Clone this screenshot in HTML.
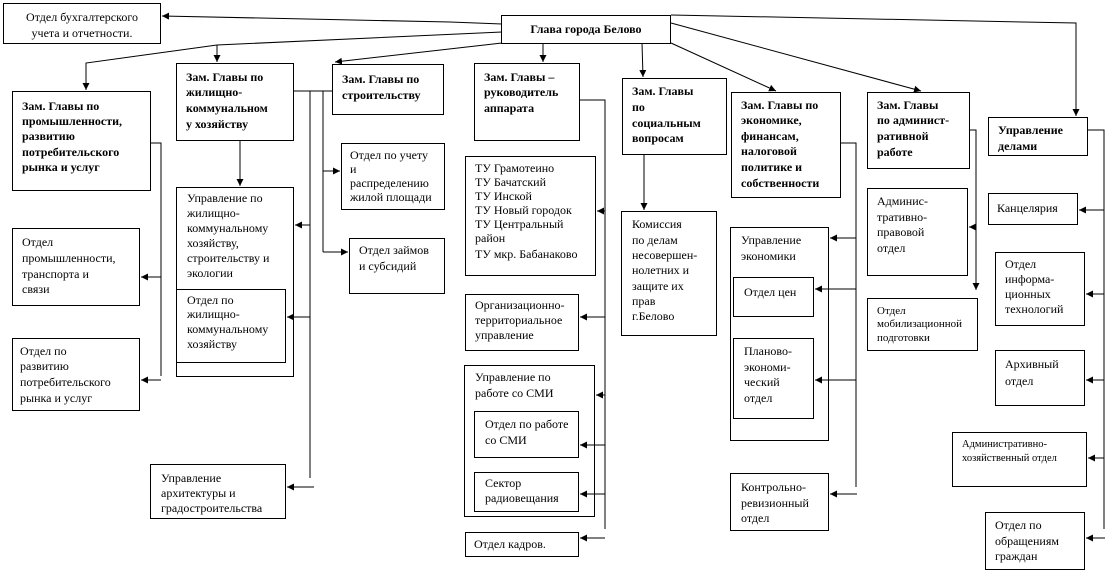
<!DOCTYPE html>
<html><head><meta charset="utf-8"><style>
html,body{margin:0;padding:0;background:#fff;width:1106px;height:573px;overflow:hidden}
svg text{font-family:"Liberation Serif","DejaVu Serif",serif;font-size:12px;fill:#000}
svg text.b{font-weight:bold;font-size:12px}
</style></head><body>
<svg width="1106" height="573" viewBox="0 0 1106 573" xmlns="http://www.w3.org/2000/svg">
<defs><marker id="a" markerWidth="8" markerHeight="8" refX="7" refY="4" orient="auto" markerUnits="userSpaceOnUse"><path d="M0,0.5 L7,4 L0,7.5 Z" fill="#000"/></marker></defs>
<g fill="none" stroke="#000" stroke-width="1">
<!-- boxes -->
<rect x="3.5" y="3.5" width="157" height="40"/>
<rect x="501.5" y="15.5" width="169" height="28"/>
<rect x="12.5" y="91.5" width="138" height="99"/>
<rect x="176.5" y="63.5" width="117" height="77"/>
<rect x="332.5" y="64.5" width="111" height="50"/>
<rect x="474.5" y="63.5" width="105" height="77"/>
<rect x="622.5" y="78.5" width="104" height="76"/>
<rect x="731.5" y="92.5" width="109" height="105"/>
<rect x="867.5" y="92.5" width="102" height="76"/>
<rect x="988.5" y="117.5" width="99" height="38"/>
<rect x="341.5" y="143.5" width="103" height="66"/>
<rect x="349.5" y="238.5" width="95" height="55"/>
<rect x="12.5" y="228.5" width="127" height="77"/>
<rect x="12.5" y="338.5" width="127" height="72"/>
<rect x="176.5" y="187.5" width="117" height="189"/>
<rect x="176.5" y="289.5" width="109" height="73"/>
<rect x="150.5" y="464.5" width="135" height="54"/>
<rect x="465.5" y="156.5" width="130" height="119"/>
<rect x="465.5" y="294.5" width="113" height="56"/>
<rect x="464.5" y="365.5" width="130" height="151"/>
<rect x="474.5" y="411.5" width="104" height="46"/>
<rect x="474.5" y="472.5" width="104" height="39"/>
<rect x="465.5" y="532.5" width="113" height="24"/>
<rect x="621.5" y="211.5" width="95" height="124"/>
<rect x="730.5" y="227.5" width="98" height="213"/>
<rect x="733.5" y="277.5" width="80" height="39"/>
<rect x="733.5" y="338.5" width="80" height="80"/>
<rect x="730.5" y="473.5" width="98" height="57"/>
<rect x="867.5" y="188.5" width="100" height="87"/>
<rect x="867.5" y="298.5" width="110" height="52"/>
<rect x="988.5" y="193.5" width="89" height="31"/>
<rect x="995.5" y="252.5" width="89" height="73"/>
<rect x="995.5" y="350.5" width="89" height="55"/>
<rect x="952.5" y="432.5" width="134" height="54"/>
<rect x="985.5" y="512.5" width="99" height="57"/>
<!-- Glava connectors -->
<polyline points="502,24 450,22 162,16" marker-end="url(#a)"/>
<polyline points="502,32 217,45 86,63 86,90" marker-end="url(#a)"/>
<polyline points="217,45 217,62" marker-end="url(#a)"/>
<polyline points="502,43 335,62" marker-end="url(#a)"/>
<polyline points="543,43 543,62" marker-end="url(#a)"/>
<polyline points="642,43 643,77" marker-end="url(#a)"/>
<polyline points="671,43 776,91" marker-end="url(#a)"/>
<polyline points="671,23 921,91" marker-end="url(#a)"/>
<polyline points="671,15 1076,23 1076,116" marker-end="url(#a)"/>
<!-- Zam prom -->
<polyline points="150,143 161,143 161,376"/>
<polyline points="161,277 141,277" marker-end="url(#a)"/>
<polyline points="161,380 141,380" marker-end="url(#a)"/>
<!-- ZhKH -->
<polyline points="240,140 240,186" marker-end="url(#a)"/>
<polyline points="293,91 332,91"/>
<polyline points="310,91 310,478"/>
<polyline points="323,91 323,252"/>
<polyline points="310,225 295,225" marker-end="url(#a)"/>
<polyline points="310,317 287,317" marker-end="url(#a)"/>
<polyline points="314,487 287,487" marker-end="url(#a)"/>
<polyline points="323,171 340,171" marker-end="url(#a)"/>
<polyline points="323,252 348,252" marker-end="url(#a)"/>
<!-- apparatus -->
<polyline points="579,100 605,100 605,529"/>
<polyline points="605,211 597,211" marker-end="url(#a)"/>
<polyline points="605,317 580,317" marker-end="url(#a)"/>
<polyline points="605,395 596,395" marker-end="url(#a)"/>
<polyline points="605,445 580,445" marker-end="url(#a)"/>
<polyline points="605,494 580,494" marker-end="url(#a)"/>
<polyline points="605,538 580,538" marker-end="url(#a)"/>
<!-- social -->
<polyline points="644,154 644,210" marker-end="url(#a)"/>
<!-- econ -->
<polyline points="840,143 856,143 856,487"/>
<polyline points="856,238 830,238" marker-end="url(#a)"/>
<polyline points="856,289 815,289" marker-end="url(#a)"/>
<polyline points="856,380 815,380" marker-end="url(#a)"/>
<polyline points="857,494 830,494" marker-end="url(#a)"/>
<!-- adm -->
<polyline points="969,130 976,130 976,290" marker-end="url(#a)"/>
<polyline points="976,227 969,227" marker-end="url(#a)"/>
<!-- delami -->
<polyline points="1087,130 1104,130 1104,529"/>
<polyline points="1104,210 1079,210" marker-end="url(#a)"/>
<polyline points="1104,294 1086,294" marker-end="url(#a)"/>
<polyline points="1104,380 1086,380" marker-end="url(#a)"/>
<polyline points="1104,458 1088,458" marker-end="url(#a)"/>
<polyline points="1105,538 1086,538" marker-end="url(#a)"/>
</g>
<g>
<text x="82" y="21" text-anchor="middle">Отдел бухгалтерского</text>
<text x="82" y="37" text-anchor="middle">учета и отчетности.</text>
<text x="586" y="33" text-anchor="middle" class="b">Глава города Белово</text>
<text class="b" x="22" y="110">Зам. Главы по</text>
<text class="b" x="22" y="125">промышленности,</text>
<text class="b" x="22" y="140">развитию</text>
<text class="b" x="22" y="156">потребительского</text>
<text class="b" x="22" y="171">рынка и услуг</text>
<text class="b" x="186" y="81">Зам. Главы по</text>
<text class="b" x="186" y="96">жилищно-</text>
<text class="b" x="186" y="112">коммунальном</text>
<text class="b" x="186" y="128">у хозяйству</text>
<text class="b" x="342" y="83">Зам. Главы по</text>
<text class="b" x="342" y="99">строительству</text>
<text class="b" x="484" y="81">Зам. Главы –</text>
<text class="b" x="484" y="96">руководитель</text>
<text class="b" x="484" y="112">аппарата</text>
<text class="b" x="632" y="95">Зам. Главы</text>
<text class="b" x="632" y="111">по</text>
<text class="b" x="632" y="127">социальным</text>
<text class="b" x="632" y="142">вопросам</text>
<text class="b" x="741" y="109">Зам. Главы по</text>
<text class="b" x="741" y="124">экономике,</text>
<text class="b" x="741" y="140">финансам,</text>
<text class="b" x="741" y="155">налоговой</text>
<text class="b" x="741" y="171">политике и</text>
<text class="b" x="741" y="187">собственности</text>
<text class="b" x="877" y="109">Зам. Главы</text>
<text class="b" x="877" y="124">по админист-</text>
<text class="b" x="877" y="140">ративной</text>
<text class="b" x="877" y="156">работе</text>
<text class="b" x="998" y="134">Управление</text>
<text class="b" x="998" y="150">делами</text>
<text x="350" y="159">Отдел по учету</text>
<text x="350" y="173">и</text>
<text x="350" y="187">распределению</text>
<text x="350" y="201">жилой площади</text>
<text x="359" y="254">Отдел займов</text>
<text x="359" y="270">и субсидий</text>
<text x="22" y="246">Отдел</text>
<text x="22" y="262">промышленности,</text>
<text x="22" y="278">транспорта и</text>
<text x="22" y="293">связи</text>
<text x="20" y="355">Отдел по</text>
<text x="20" y="370">развитию</text>
<text x="20" y="386">потребительского</text>
<text x="20" y="402">рынка и услуг</text>
<text x="187" y="202">Управление по</text>
<text x="187" y="217">жилищно-</text>
<text x="187" y="232">коммунальному</text>
<text x="187" y="247">хозяйству,</text>
<text x="187" y="262">строительству и</text>
<text x="187" y="277">экологии</text>
<text x="187" y="304">Отдел по</text>
<text x="187" y="318">жилищно-</text>
<text x="187" y="333">коммунальному</text>
<text x="187" y="348">хозяйству</text>
<text x="161" y="482">Управление</text>
<text x="161" y="497">архитектуры и</text>
<text x="161" y="512">градостроительства</text>
<text x="475" y="172">ТУ Грамотеино</text>
<text x="475" y="186">ТУ Бачатский</text>
<text x="475" y="200">ТУ Инской</text>
<text x="475" y="214">ТУ Новый городок</text>
<text x="475" y="228">ТУ Центральный</text>
<text x="475" y="242">район</text>
<text x="475" y="258">ТУ мкр. Бабанаково</text>
<text x="475" y="309">Организационно-</text>
<text x="475" y="324">территориальное</text>
<text x="475" y="339">управление</text>
<text x="475" y="381">Управление по</text>
<text x="475" y="397">работе со СМИ</text>
<text x="485" y="428">Отдел по работе</text>
<text x="485" y="444">со СМИ</text>
<text x="485" y="487">Сектор</text>
<text x="485" y="502">радиовещания</text>
<text x="474" y="548">Отдел кадров.</text>
<text x="632" y="228">Комиссия</text>
<text x="632" y="244">по делам</text>
<text x="632" y="259">несовершен-</text>
<text x="632" y="274">нолетних и</text>
<text x="632" y="290">защите их</text>
<text x="632" y="305">прав</text>
<text x="632" y="320">г.Белово</text>
<text x="741" y="244">Управление</text>
<text x="741" y="260">экономики</text>
<text x="744" y="296">Отдел цен</text>
<text x="744" y="355">Планово-</text>
<text x="744" y="371">экономи-</text>
<text x="744" y="386">ческий</text>
<text x="744" y="402">отдел</text>
<text x="741" y="491">Контрольно-</text>
<text x="741" y="507">ревизионный</text>
<text x="741" y="522">отдел</text>
<text x="877" y="205">Админис-</text>
<text x="877" y="221">тративно-</text>
<text x="877" y="236">правовой</text>
<text x="877" y="252">отдел</text>
<text x="877" y="314" style="font-size:11px">Отдел</text>
<text x="877" y="327" style="font-size:11px">мобилизационной</text>
<text x="877" y="341" style="font-size:11px">подготовки</text>
<text x="997" y="212">Канцелярия</text>
<text x="1005" y="268">Отдел</text>
<text x="1005" y="283">информа-</text>
<text x="1005" y="298">ционных</text>
<text x="1005" y="313">технологий</text>
<text x="1005" y="368">Архивный</text>
<text x="1005" y="385">отдел</text>
<text x="962" y="447" style="font-size:10.5px">Административно-</text>
<text x="962" y="461" style="font-size:10.5px">хозяйственный отдел</text>
<text x="995" y="529">Отдел по</text>
<text x="995" y="545">обращениям</text>
<text x="995" y="560">граждан</text>
</g>
</svg>
</body></html>
